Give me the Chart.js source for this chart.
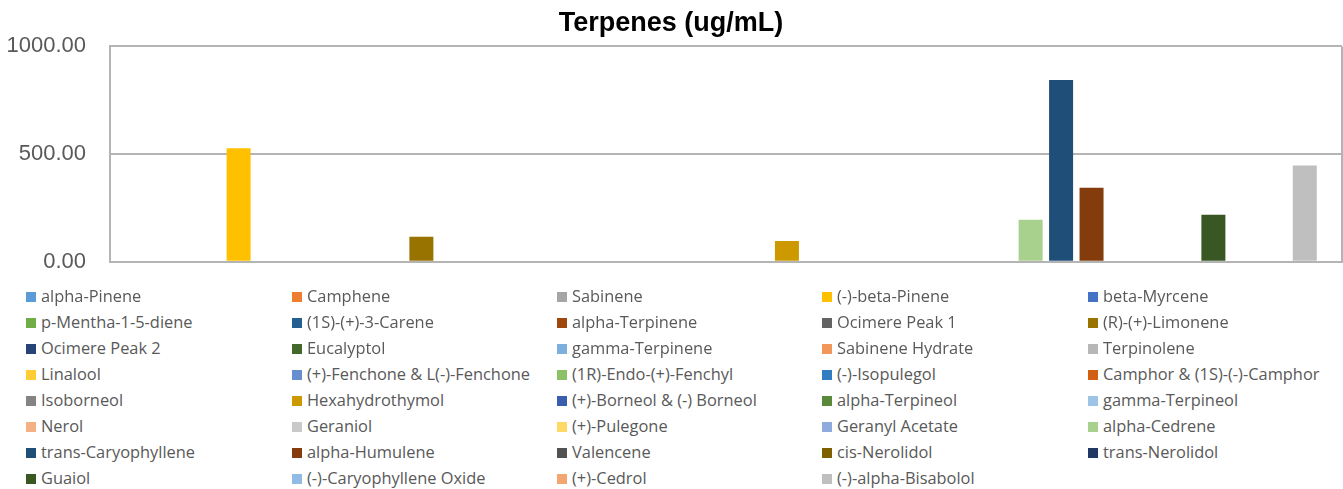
<!DOCTYPE html>
<html>
<head>
<meta charset="utf-8">
<script src="https://cdn.jsdelivr.net/npm/chart.js@4"></script>
<style>
  body { margin: 0; background: #fff; }
  #wrap { position: relative; width: 1343px; height: 489px; overflow: hidden; }
  #chart { position: absolute; left: 0; top: 0; }
  #legend { position: absolute; left: 0; top: 283px; width: 1343px; }
  .item { position: absolute; height: 26px; line-height: 26px; white-space: nowrap;
          font-family: "Open Sans", sans-serif; font-size: 16.4px; color: #595959; }
  .item i { display: inline-block; width: 10px; height: 10px; margin-right: 5px; }
</style>
</head>
<body>
<div id="wrap">
  <canvas id="chart" width="1343" height="299"></canvas>
  <div id="legend"></div>
</div>
<script>
const categories = ['Terpenes'];

const seriesNames = [
  'alpha-Pinene', 'Camphene', 'Sabinene', '(-)-beta-Pinene', 'beta-Myrcene',
  'p-Mentha-1-5-diene', '(1S)-(+)-3-Carene', 'alpha-Terpinene', 'Ocimere Peak 1', '(R)-(+)-Limonene',
  'Ocimere Peak 2', 'Eucalyptol', 'gamma-Terpinene', 'Sabinene Hydrate', 'Terpinolene',
  'Linalool', '(+)-Fenchone & L(-)-Fenchone', '(1R)-Endo-(+)-Fenchyl', '(-)-Isopulegol', 'Camphor & (1S)-(-)-Camphor',
  'Isoborneol', 'Hexahydrothymol', '(+)-Borneol & (-) Borneol', 'alpha-Terpineol', 'gamma-Terpineol',
  'Nerol', 'Geraniol', '(+)-Pulegone', 'Geranyl Acetate', 'alpha-Cedrene',
  'trans-Caryophyllene', 'alpha-Humulene', 'Valencene', 'cis-Nerolidol', 'trans-Nerolidol',
  'Guaiol', '(-)-Caryophyllene Oxide', '(+)-Cedrol', '(-)-alpha-Bisabolol'
];

const seriesValues = [
  0, 0, 0, 527, 0,
  0, 0, 0, 0, 116,
  0, 0, 0, 0, 0,
  0, 0, 0, 0, 0,
  0, 97, 0, 0, 0,
  0, 0, 0, 0, 195,
  844, 344, 0, 0, 0,
  218, 0, 0, 447
];

const seriesColors = [
  '#5B9BD5', '#ED7D31', '#A5A5A5', '#FFC000', '#4472C4',
  '#70AD47', '#255E91', '#9E480E', '#636363', '#997300',
  '#264478', '#43682B', '#7CAFDD', '#F1975A', '#B7B7B7',
  '#FFCD33', '#698ED0', '#8CC168', '#327DC2', '#D26012',
  '#848484', '#CC9A00', '#3A5DAE', '#5A8A39', '#9DC3E6',
  '#F4B183', '#C9C9C9', '#FFD966', '#8FAADC', '#A9D18E',
  '#1F4E79', '#843C0C', '#525252', '#7F6000', '#203864',
  '#385723', '#8FBBE4', '#F3A670', '#BFBFBF'
];

const yTicks = [0, 500, 1000];

const gridColor = '#B4B4B4';

const datasets = seriesNames.map((name, i) => ({
  label: name,
  data: [seriesValues[i]],
  backgroundColor: seriesColors[i],
  borderWidth: 0,
  categoryPercentage: 0.9643,
  barPercentage: 0.788
}));

const chart = new Chart(document.getElementById('chart'), {
  type: 'bar',
  data: { labels: categories, datasets: datasets },
  options: {
    responsive: false,
    animation: false,
    layout: { padding: { left: 0, right: 1, top: 0, bottom: 13 } },
    plugins: {
      legend: { display: false },
      tooltip: { enabled: false },
      title: {
        display: true,
        text: 'Terpenes (ug/mL)',
        color: '#000',
        font: { family: 'Liberation Sans', size: 27, weight: 'bold' },
        padding: { top: 7, bottom: 7 }
      }
    },
    scales: {
      x: {
        ticks: { display: false },
        grid: { display: true, color: gridColor, lineWidth: 2, drawTicks: false },
        border: { display: true, color: gridColor, width: 2 }
      },
      y: {
        min: 0,
        max: 1000,
        afterFit: s => { s.width = 110; },
        afterBuildTicks: s => { s.ticks = yTicks.map(v => ({ value: v })); },
        ticks: {
          padding: 24,
          color: '#595959',
          font: { family: 'Liberation Sans', size: 22 },
          callback: v => Number(v).toFixed(2)
        },
        grid: { color: gridColor, lineWidth: 2, drawTicks: false },
        border: { display: true, color: gridColor, width: 2 }
      }
    }
  }
});

// legend: 5 columns, filled row by row like the Excel legend
const colX = [26, 292, 557, 822, 1088];
const legend = document.getElementById('legend');
chart.data.datasets.forEach((ds, i) => {
  const item = document.createElement('div');
  item.className = 'item';
  item.style.left = colX[i % 5] + 'px';
  item.style.top = (Math.floor(i / 5) * 26) + 'px';
  item.innerHTML = '<i style="background:' + ds.backgroundColor + '"></i>' + ds.label;
  legend.appendChild(item);
});
</script>
</body>
</html>
